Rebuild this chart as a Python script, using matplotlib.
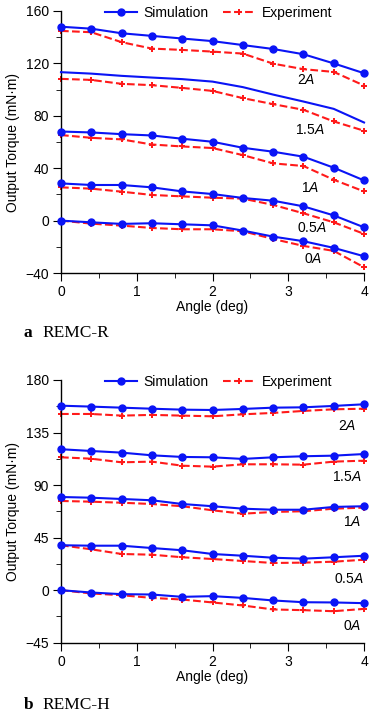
import numpy as np
import matplotlib
matplotlib.use("Agg")
import matplotlib.pyplot as plt
from matplotlib.ticker import MultipleLocator

plt.rcParams.update({
    "font.family": "Liberation Sans", "font.size": 10,
    "axes.spines.top": False, "axes.spines.right": False,
    "axes.linewidth": 1.0,
    "xtick.major.size": 6, "ytick.major.size": 6,
    "xtick.minor.size": 3.5, "ytick.minor.size": 3.5,
    "xtick.major.pad": 2.5, "ytick.major.pad": 2.5,
    "mathtext.fontset": "custom", "mathtext.it": "Liberation Sans:italic",
})
C_SIM, C_EXP = "#0a14f5", "#ff1a1a"

angle = [0, 0.4, 0.8, 1.2, 1.6, 2.0, 2.4, 2.8, 3.2, 3.6, 4.0]
currents = ["2", "1.5", "1", "0.5", "0"]

# (a) REMC-R
r_sim = {
    "2":   [148, 146.5, 143, 141, 139, 137, 134, 131, 127, 120, 112.5],
    "1.5": [113.3, 112.2, 110.5, 109.2, 108, 106.1, 101.9, 96.2, 90.9, 85.3, 74.9],
    "1":   [68, 67.3, 66, 65, 62.5, 60.2, 55.6, 52.6, 48.8, 40.4, 30.7],
    "0.5": [28.4, 27.2, 27.2, 25.4, 22.3, 20.3, 17.3, 15.2, 10.9, 4.0, -5.1],
    "0":   [0, -1.3, -2.5, -2.0, -2.8, -3.6, -7.6, -12.2, -15.7, -20.8, -27.2],
}
r_exp = {
    "2":   [144.8, 143.8, 136.2, 131.3, 130.3, 129, 127.5, 119.8, 115.6, 113.5, 103.1],
    "1.5": [108.2, 107.4, 104.4, 103.4, 101.3, 99, 93.5, 88.9, 84.6, 75.7, 68.6],
    "1":   [65.3, 63.2, 62, 58.1, 56.6, 55.4, 50, 43.7, 41.7, 31.2, 22.3],
    "0.5": [25.4, 24.4, 22.1, 19.6, 18.5, 17.5, 16.8, 12.0, 5.6, -1.3, -10.1],
    "0":   [0, -2.3, -3.8, -5.6, -6.6, -6.6, -8.1, -14, -19.3, -23.1, -35.6],
}
r_lab_xy = {"2": (3.23, 107), "1.5": (3.28, 69), "1": (3.29, 25),
            "0.5": (3.31, -5.6), "0": (3.33, -29)}

# (b) REMC-H
h_sim = {
    "2":   [158.0, 157.2, 156.3, 155.4, 154.6, 154.3, 155.2, 156.3, 156.6, 157.8, 159.2],
    "1.5": [120.7, 119.2, 117.8, 115.5, 114.1, 113.8, 112.4, 113.8, 114.7, 115.2, 116.6],
    "1":   [79.8, 79.2, 78.1, 77.0, 73.8, 71.9, 69.8, 68.9, 68.9, 71.3, 71.9],
    "0.5": [38.5, 38.1, 38.1, 36.1, 34.2, 31.0, 29.5, 27.8, 27.0, 28.2, 29.5],
    "0":   [0, -2.0, -3.4, -3.7, -5.7, -5.1, -6.6, -8.8, -10.3, -10.5, -11.1],
}
h_exp = {
    "2":   [150.9, 150.9, 149.5, 150.1, 149.5, 148.9, 150.6, 151.8, 153.5, 154.9, 155.4],
    "1.5": [113.8, 112.6, 109.5, 110.1, 106.6, 105.8, 107.8, 107.8, 107.5, 110.1, 110.9],
    "1":   [76.4, 75.8, 74.9, 73.8, 71.9, 68.4, 65.5, 67.0, 67.6, 69.8, 70.7],
    "0.5": [38.5, 35.0, 31.0, 30.4, 28.2, 26.7, 25.0, 23.3, 23.6, 24.4, 26.1],
    "0":   [0, -2.8, -4.3, -6.6, -8.0, -10.5, -13.1, -16.5, -17.1, -18.0, -16.0],
}
h_lab_xy = {"2": (3.77, 141), "1.5": (3.77, 97), "1": (3.84, 58),
            "0.5": (3.8, 9.3), "0": (3.84, -31)}


def panel(ax, sim, exp, labxy, ylim, ystep, sim_marks_15=False):
    for c in currents:
        mk = "o" if (c != "1.5" or sim_marks_15) else None
        ax.plot(angle, sim[c], "-", color=C_SIM, lw=1.5, marker=mk, ms=5,
                label="Simulation" if c == "2" else None, clip_on=False, zorder=3)
        ax.plot(angle, exp[c], "--", color=C_EXP, lw=1.5, marker="P", ms=4,
                mew=0, label="Experiment" if c == "2" else None,
                clip_on=False, zorder=2)
        x, y = labxy[c]
        ax.text(x, y, c + r"$\mathit{A}$", ha="center", va="center", fontsize=10)
    ax.set_xlim(0, 4)
    ax.set_ylim(*ylim)
    ax.set_xticks([0, 1, 2, 3, 4])
    ax.xaxis.set_minor_locator(MultipleLocator(0.5))
    ax.set_yticks(np.arange(ylim[0], ylim[1] + 1, ystep))
    ax.yaxis.set_minor_locator(MultipleLocator(ystep / 2))
    ax.set_xlabel("Angle (deg)", labelpad=1)
    ax.legend(loc="upper center", bbox_to_anchor=(0.52, 1.04), ncol=2,
              frameon=False, handlelength=2.3, columnspacing=1.0,
              handletextpad=0.5, borderaxespad=0)


fig = plt.figure(figsize=(3.76, 7.14), dpi=100)
ax1 = fig.add_axes([0.1622, 0.6176, 0.806, 0.367])
ax2 = fig.add_axes([0.1622, 0.0998, 0.806, 0.368])
panel(ax1, r_sim, r_exp, r_lab_xy, (-40, 160), 40)
panel(ax2, h_sim, h_exp, h_lab_xy, (-45, 180), 45, sim_marks_15=True)
ax1.set_ylabel("Output Torque (mN·m)", labelpad=4)
ax2.set_ylabel("Output Torque (mN·m)", labelpad=4)

for y, tag, name in [(333, "a", "REMC-R"), (705, "b", "REMC-H")]:
    fig.text(24 / 376, 1 - y / 714, tag, family="Liberation Serif",
             weight="bold", fontsize=12.5, va="center")
    fig.text(42 / 376, 1 - y / 714, name, family="Liberation Serif",
             fontsize=12.5, va="center")

fig.savefig("out.png", dpi=100)
